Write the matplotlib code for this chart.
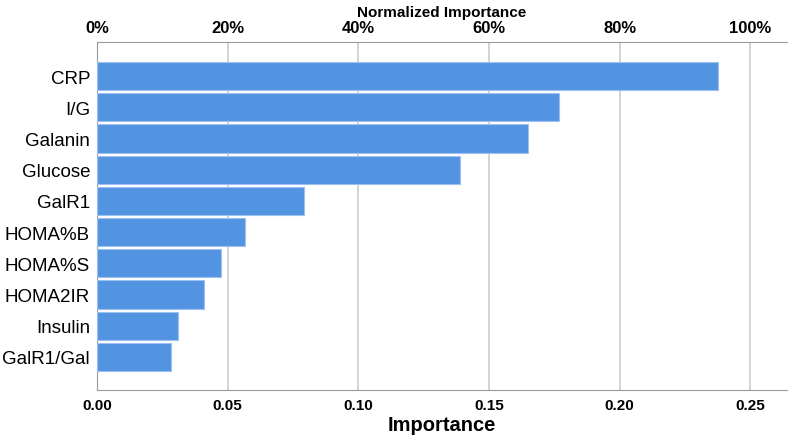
import matplotlib
matplotlib.use("Agg")
import matplotlib.pyplot as plt
from matplotlib.ticker import FuncFormatter

plt.rcParams['font.family'] = ['Liberation Sans', 'DejaVu Sans']

features = ["CRP", "I/G", "Galanin", "Glucose", "GalR1",
            "HOMA%B", "HOMA%S", "HOMA2IR", "Insulin", "GalR1/Gal"]
importance = [0.2376, 0.1767, 0.1649, 0.1389, 0.0792,
              0.0566, 0.0474, 0.0409, 0.0310, 0.0283]
bottom_ticks = [0.00, 0.05, 0.10, 0.15, 0.20, 0.25]
top_labels = ["0%", "20%", "40%", "60%", "80%", "100%"]

fig = plt.figure(figsize=(7.9, 4.39), dpi=100)
ax = fig.add_axes([0.1228, 0.1093, 0.8732, 0.7927])

pos = list(range(len(features)))
ax.barh(pos, importance, height=0.9, color="#5294e2",
        edgecolor="#9cc0ef", linewidth=0.8, zorder=3)

ax.set_xlim(0, 0.264)
ax.set_ylim(10.06, -1.09)
ax.set_yticks(pos)
ax.set_yticklabels(features, fontsize=13.5)
ax.set_xticks(bottom_ticks)
ax.xaxis.set_major_formatter(FuncFormatter(lambda v, p: "%.2f" % v))
for lab in ax.get_xticklabels():
    lab.set_fontsize(11)
    lab.set_fontweight("semibold")
ax.tick_params(length=0, pad=6)
ax.tick_params(axis="y", pad=5)
ax.grid(axis="x", color="#cccccc", linewidth=1.2, zorder=0)
ax.set_xlabel("Importance", fontsize=14.5, fontweight="bold", labelpad=2)

for s in ["left", "bottom", "top"]:
    ax.spines[s].set_color("#999999")
ax.spines["right"].set_visible(False)

top = ax.twiny()
top.set_xlim(ax.get_xlim())
top.set_xticks(bottom_ticks)
top.set_xticklabels(top_labels, fontsize=12, fontweight="bold")
top.tick_params(length=0, pad=5)
top.set_xlabel("Normalized Importance", fontsize=11, fontweight="bold", labelpad=3)
for s in top.spines.values():
    s.set_visible(False)

fig.savefig("out.png", dpi=100)
